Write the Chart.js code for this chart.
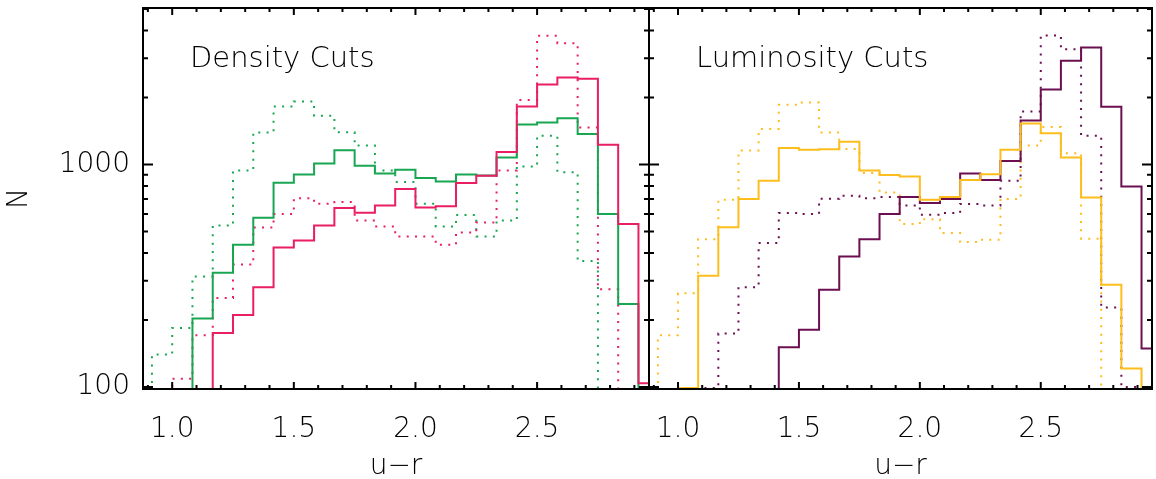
<!DOCTYPE html>
<html><head><meta charset="utf-8">
<script src="https://cdn.jsdelivr.net/npm/chart.js@4.4.1/dist/chart.umd.min.js"></script>
<style>
html,body{margin:0;padding:0;background:#fff;}
#wrap{position:relative;width:1156px;height:479px;overflow:hidden;background:#fff;}
.pane{position:absolute;top:0;}
</style></head><body>
<div id="wrap">
<div class="pane" style="left:0;width:655px;height:479px"><canvas id="c1" width="655" height="479"></canvas></div>
<div class="pane" style="left:645px;width:511px;height:479px"><canvas id="c2" width="511" height="479"></canvas></div>
</div>
<script>
// ---- data ----
const binEdges = [0.8333,0.9167,1.0000,1.0833,1.1667,1.2500,1.3333,1.4167,1.5000,1.5833,1.6667,1.7500,1.8333,1.9167,2.0000,2.0833,2.1667,2.2500,2.3333,2.4167,2.5000,2.5833,2.6667,2.7500,2.8333,2.9167,3.0000];

// Density Cuts panel
const densityGreenSolid  = [50,50,50,203,326,436,576,828,902,1010,1160,986,911,946,869,839,902,892,1076,1513,1544,1615,1370,599,236,50];
const densityGreenDotted = [50,140,184,314,532,940,1393,1822,1919,1655,1398,1217,940,834,666,527,593,475,560,980,1346,924,368,50,50,50];
const densityPinkSolid   = [50,50,50,50,175,211,281,424,456,532,637,607,655,776,641,650,825,890,1137,1822,2288,2460,2427,1226,540,104];
const densityPinkDotted  = [50,98,109,171,251,355,521,599,706,666,678,560,527,475,475,436,495,549,940,1947,3785,3511,1466,275,50,50];

// Luminosity Cuts panel
const lumAmberSolid   = [50,50,99,316,523,699,845,1185,1164,1170,1265,940,896,883,694,714,851,905,1164,1528,1383,1076,711,288,121,50];
const lumAmberDotted  = [50,171,264,462,694,1157,1443,1854,1900,1393,1173,915,748,540,568,492,448,459,699,1217,1476,1124,464,50,50,50];
const lumPurpleSolid  = [50,50,50,50,50,50,50,151,181,274,386,462,599,714,671,699,911,851,1036,1577,2173,2925,3355,1817,797,149];
const lumPurpleDotted = [50,50,50,99,174,281,444,605,600,702,724,706,714,655,594,605,665,655,845,1730,3799,3296,1346,228,100,50];

const panelTitles = ["Density Cuts", "Luminosity Cuts"];
const xTickLabels = [1.0, 1.5, 2.0, 2.5];
const xMinorTicks = [0.9,1.0,1.1,1.2,1.3,1.4,1.5,1.6,1.7,1.8,1.9,2.0,2.1,2.2,2.3,2.4,2.5,2.6,2.7,2.8,2.9];
const yTickLabels = [100, 1000];
const yMinorTicks = [200,300,400,500,600,700,800,900,2000,3000,4000,5000];
const xRange = [0.88, 2.96];
const yRange = [98, 5050];
const xTitle = "u\u2212r";
const yTitle = "N";

// ---- styling ----
const C = {green:'#19a653', pink:'#e91e63', amber:'#fdbd1c', purple:'#6b0f50'};
const FONT = '"DejaVu Sans", "Noto Sans", sans-serif';
const FW = 200;
const TXT = '#000';

function pts(vals){
  const out = vals.map((v,i)=>({x:binEdges[i], y:v}));
  out.push({x:binEdges[vals.length], y:vals[vals.length-1]});
  return out;
}
function ds(vals, color, dotted){
  return {data:pts(vals), borderColor:color, borderWidth:2, stepped:true,
          borderDash: dotted ? [2,6.3] : [], pointRadius:0, fill:false, tension:0};
}

const framePlugin = {
  id:'frame',
  afterDatasetsDraw(chart, args, opts){
    const {ctx, chartArea:a, scales:{x,y}} = chart;
    ctx.save();
    ctx.strokeStyle='#000'; ctx.lineWidth=2; ctx.setLineDash([]);
    ctx.strokeRect(a.left, a.top, a.right-a.left, a.bottom-a.top);
    ctx.beginPath();
    for (const v of xMinorTicks){
      const px = x.getPixelForValue(v);
      const major = xTickLabels.some(m=>Math.abs(m-v)<1e-6);
      const L = major ? 7 : 4;
      ctx.moveTo(px,a.bottom); ctx.lineTo(px,a.bottom-L);
      ctx.moveTo(px,a.top); ctx.lineTo(px,a.top+L);
    }
    const yt = yTickLabels.map(v=>[v,10]).concat(yMinorTicks.map(v=>[v,5]));
    for (const [v,L] of yt){
      const py = y.getPixelForValue(v);
      if (py < a.top || py > a.bottom) continue;
      ctx.moveTo(a.left,py); ctx.lineTo(a.left+L,py);
      ctx.moveTo(a.right,py); ctx.lineTo(a.right-L,py);
    }
    ctx.stroke();
    ctx.fillStyle=TXT;
    ctx.font = FW + ' 29px ' + FONT;
    ctx.textBaseline='alphabetic'; ctx.textAlign='left';
    ctx.fillText(opts.text, a.left + 47, a.top + 59);
    ctx.restore();
  }
};

function makeChart(id, datasets, title, showY, pad){
  return new Chart(document.getElementById(id), {
    type:'line',
    data:{datasets},
    options:{
      responsive:false, animation:false, events:[],
      layout:{padding:pad},
      plugins:{legend:{display:false}, tooltip:{enabled:false}, frame:{text:title}},
      scales:{
        x:{type:'linear', min:xRange[0], max:xRange[1],
           grid:{display:false, drawTicks:false}, border:{display:false},
           afterBuildTicks:s=>{s.ticks = xTickLabels.map(v=>({value:v}));},
           afterFit:s=>{s.height = 90; s.paddingLeft = 0; s.paddingRight = 0;},
           ticks:{padding:24, color:TXT, maxRotation:0, autoSkip:false,
                  font:{family:FONT, size:28, weight:FW}, callback:v=>Number(v).toFixed(1)},
           title:{display:true, text:xTitle, color:TXT, padding:{top:0,bottom:-5},
                  font:{family:FONT, size:28, weight:FW}}},
        y:{type:'logarithmic', min:yRange[0], max:yRange[1], display:showY,
           grid:{display:false, drawTicks:false}, border:{display:false},
           afterBuildTicks:s=>{s.ticks = yTickLabels.map(v=>({value:v}));},
           afterFit:s=>{ if(showY) s.width = 143; s.paddingTop = 0; s.paddingBottom = 0; },
           ticks:{padding:13, color:TXT, autoSkip:false,
                  font:{family:FONT, size:28, weight:FW}, callback:v=>String(v)},
           title:{display:true, text:yTitle, color:TXT, padding:{top:3,bottom:0},
                  font:{family:FONT, size:28, weight:FW}}}
      }
    },
    plugins:[framePlugin]
  });
}

makeChart('c1', [
  ds(densityPinkSolid, C.pink, false),
  ds(densityGreenSolid, C.green, false),
  ds(densityPinkDotted, C.pink, true),
  ds(densityGreenDotted, C.green, true)
], panelTitles[0], true, {left:0, right:6, top:8, bottom:0});

makeChart('c2', [
  ds(lumAmberSolid, C.amber, false),
  ds(lumPurpleSolid, C.purple, false),
  ds(lumAmberDotted, C.amber, true),
  ds(lumPurpleDotted, C.purple, true)
], panelTitles[1], false, {left:4, right:4, top:8, bottom:0});
</script>
</body></html>
